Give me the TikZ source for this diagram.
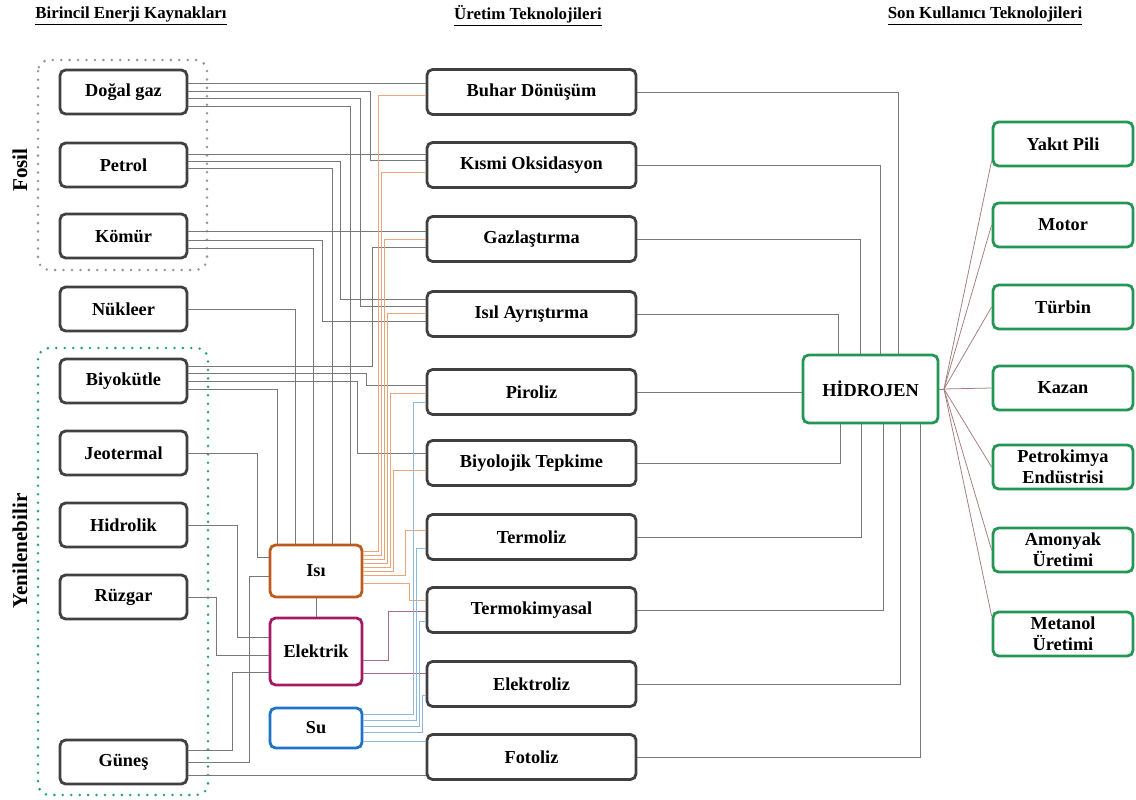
\documentclass[tikz,border=0pt]{standalone}
\usepackage{fontspec}
\setmainfont{Liberation Serif}
\definecolor{boxgray}{RGB}{64,64,64}
\definecolor{usegreen}{RGB}{35,150,85}
\definecolor{fosilgray}{RGB}{150,150,150}
\definecolor{renewgreen}{RGB}{40,165,110}
\definecolor{heatorange}{RGB}{190,90,30}
\definecolor{powermagenta}{RGB}{165,25,100}
\definecolor{waterblue}{RGB}{30,115,195}
\definecolor{wiregray}{RGB}{120,120,120}
\definecolor{heatwire}{RGB}{235,165,120}
\definecolor{waterwire}{RGB}{140,185,225}
\definecolor{powerwire}{RGB}{170,110,140}
\definecolor{fanwire}{RGB}{165,125,125}
\newcommand{\flowfont}{\fontsize{13}{15}\selectfont\bfseries}
\newcommand{\colheadfont}{\fontsize{12}{14}\selectfont\bfseries}
\newcommand{\sidefont}{\fontsize{15}{17}\selectfont\bfseries}
\tikzset{
  flow box/.style={draw=boxgray,line width=2pt,rounded corners=4pt,font=\flowfont,align=center,inner sep=0pt},
  source box/.style={flow box,minimum width=3.175cm,minimum height=1.1cm},
  tech box/.style={flow box,minimum width=5.225cm,minimum height=1.125cm},
  carrier box/.style={flow box,minimum width=2.3cm},
  use box/.style={flow box,draw=usegreen,minimum width=3.5cm,minimum height=1.1cm},
  group frame/.style={line width=2pt,dash pattern=on 0pt off 6pt,line cap=round,rounded corners=8pt},
  wire/.style={draw=wiregray,line width=0.55pt},
  heat wire/.style={draw=heatwire,line width=0.55pt},
  water wire/.style={draw=waterwire,line width=0.55pt},
  power wire/.style={draw=powerwire,line width=0.55pt},
  fan wire/.style={draw=fanwire,line width=0.55pt},
  column head/.style={font=\colheadfont},
  group head/.style={font=\sidefont,rotate=90}
}

\begin{document}
\begin{tikzpicture}[x=0.025cm,y=-0.025cm]
  \useasboundingbox (0,0) rectangle (1136,800);

  % column headings
  \node[column head] (head-sources) at (131,16) {\underline{Birincil Enerji Kaynakları}};
  \node[column head] (head-tech) at (528,16) {\underline{Üretim Teknolojileri}};
  \node[column head] (head-use) at (985,16) {\underline{Son Kullanıcı Teknolojileri}};

  % source groups
  \draw[group frame,draw=fosilgray] (38,60) rectangle (207,270);
  \draw[group frame,draw=renewgreen] (38,348) rectangle (208,795);
  \node[group head] (fosil) at (20,170) {Fosil};
  \node[group head] (yenilenebilir) at (20,551) {Yenilenebilir};

  % primary sources
  \node[source box] (dogalgaz) at (123.5,92) {Doğal gaz};
  \node[source box] (petrol) at (123.5,165) {Petrol};
  \node[source box] (komur) at (123.5,236) {Kömür};
  \node[source box] (nukleer) at (123.5,309) {Nükleer};
  \node[source box] (biyokutle) at (123.5,381) {Biyokütle};
  \node[source box] (jeotermal) at (123.5,453) {Jeotermal};
  \node[source box] (hidrolik) at (123.5,525) {Hidrolik};
  \node[source box] (ruzgar) at (123.5,597) {Rüzgar};
  \node[source box] (gunes) at (123.5,762) {Güneş};

  % carriers
  \node[carrier box,draw=heatorange,minimum height=1.3cm] (isi) at (316,571) {Isı};
  \node[carrier box,draw=powermagenta,minimum height=1.675cm] (elektrik) at (316,651.5) {Elektrik};
  \node[carrier box,draw=waterblue,minimum height=1cm] (su) at (316,728) {Su};

  % production technologies
  \node[tech box] (buhar) at (531.5,92) {Buhar Dönüşüm};
  \node[tech box] (kismi) at (531.5,165) {Kısmi Oksidasyon};
  \node[tech box] (gazlas) at (531.5,239) {Gazlaştırma};
  \node[tech box] (isil) at (531.5,314) {Isıl Ayrıştırma};
  \node[tech box] (piroliz) at (531.5,392) {Piroliz};
  \node[tech box] (biyolojik) at (531.5,463) {Biyolojik Tepkime};
  \node[tech box] (termoliz) at (531.5,537) {Termoliz};
  \node[tech box] (termokim) at (531.5,610) {Termokimyasal};
  \node[tech box] (elektroliz) at (531.5,684) {Elektroliz};
  \node[tech box] (fotoliz) at (531.5,757) {Fotoliz};

  \node[flow box,draw=usegreen,minimum width=3.375cm,minimum height=1.7cm] (hidrojen) at (870.5,389) {HİDROJEN};

  % end uses
  \node[use box] (yakit) at (1063,144) {Yakıt Pili};
  \node[use box] (motor) at (1063,225) {Motor};
  \node[use box] (turbin) at (1063,307) {Türbin};
  \node[use box] (kazan) at (1063,388) {Kazan};
  \node[use box] (petrokim) at (1063,467) {Petrokimya\\Endüstrisi};
  \node[use box] (amonyak) at (1063,550) {Amonyak\\Üretimi};
  \node[use box] (metanol) at (1063,634) {Metanol\\Üretimi};

  % fossil and nuclear wiring
  \draw[wire] (dogalgaz.east |- 0,83) -- (buhar.west |- 0,83);
  \draw[wire] (dogalgaz.east |- 0,91) -| (370,160) -- (kismi.west |- 0,160);
  \draw[wire] (dogalgaz.east |- 0,98) -| (360,306) -- (isil.west |- 0,306);
  \draw[wire] (dogalgaz.east |- 0,106) -| (isi.north -| 350,0);
  \draw[wire] (petrol.east |- 0,154) -- (kismi.west |- 0,154);
  \draw[wire] (petrol.east |- 0,161) -| (340,299) -- (isil.west |- 0,299);
  \draw[wire] (petrol.east |- 0,168) -| (isi.north -| 332,0);
  \draw[wire] (komur.east |- 0,231) -- (gazlas.west |- 0,231);
  \draw[wire] (komur.east |- 0,240) -| (322,321) -- (isil.west |- 0,321);
  \draw[wire] (komur.east |- 0,248) -| (isi.north -| 313,0);
  \draw[wire] (nukleer.east) -| (isi.north -| 295,0);

  % renewable wiring
  \draw[wire] (biyokutle.east |- 0,366) -| (372,247) -- (gazlas.west |- 0,247);
  \draw[wire] (biyokutle.east |- 0,373) -| (366,385) -- (piroliz.west |- 0,385);
  \draw[wire] (biyokutle.east |- 0,381) -| (357,453) -- (biyolojik.west |- 0,453);
  \draw[wire] (biyokutle.east |- 0,389) -| (isi.north -| 277,0);
  \draw[wire] (jeotermal.east) -| (257,557) -- (isi.west |- 0,557);
  \draw[wire] (hidrolik.east) -| (237,637) -- (elektrik.west |- 0,637);
  \draw[wire] (ruzgar.east) -| (216,655) -- (elektrik.west |- 0,655);
  \draw[wire] (gunes.east |- 0,750) -| (232,672) -- (elektrik.west |- 0,672);
  \draw[wire] (gunes.east |- 0,762) -| (249,576) -- (isi.west |- 0,576);
  \draw[wire] (gunes.east |- 0,775) -- (fotoliz.west |- 0,775);
  \draw[wire] (isi.south) -- (elektrik.north);

  % heat
  \draw[heat wire] (isi.east |- 0,551) -| (378,95) -- (buhar.west |- 0,95);
  \draw[heat wire] (isi.east |- 0,555) -| (381,172) -- (kismi.west |- 0,172);
  \draw[heat wire] (isi.east |- 0,559) -| (384,239) -- (gazlas.west |- 0,239);
  \draw[heat wire] (isi.east |- 0,563) -| (387,313) -- (isil.west |- 0,313);
  \draw[heat wire] (isi.east |- 0,567) -| (390,393) -- (piroliz.west |- 0,393);
  \draw[heat wire] (isi.east |- 0,571) -| (393,470) -- (biyolojik.west |- 0,470);
  \draw[heat wire] (isi.east |- 0,575) -| (405,530) -- (termoliz.west |- 0,530);
  \draw[heat wire] (isi.east |- 0,583) -| (409,600) -- (termokim.west |- 0,600);

  % electricity and water
  \draw[power wire] (elektrik.east |- 0,660) -| (388,611) -- (termokim.west |- 0,611);
  \draw[power wire] (elektrik.east |- 0,673) -- (elektroliz.west |- 0,673);
  \draw[water wire] (su.east |- 0,714) -| (413,402) -- (piroliz.west |- 0,402);
  \draw[water wire] (su.east |- 0,720) -| (416,548) -- (termoliz.west |- 0,548);
  \draw[water wire] (su.east |- 0,726) -| (419,621) -- (termokim.west |- 0,621);
  \draw[water wire] (su.east |- 0,732) -| (422,695) -- (elektroliz.west |- 0,695);
  \draw[water wire] (su.east |- 0,741) -- (fotoliz.west |- 0,741);

  % into hydrogen
  \draw[wire] (buhar.east) -| (hidrojen.north -| 898,0);
  \draw[wire] (kismi.east) -| (hidrojen.north -| 880,0);
  \draw[wire] (gazlas.east) -| (hidrojen.north -| 860,0);
  \draw[wire] (isil.east) -| (hidrojen.north -| 838,0);
  \draw[wire] (piroliz.east) -- (hidrojen.west |- piroliz.east);
  \draw[wire] (biyolojik.east) -| (hidrojen.south -| 840,0);
  \draw[wire] (termoliz.east) -| (hidrojen.south -| 861,0);
  \draw[wire] (termokim.east) -| (hidrojen.south -| 883,0);
  \draw[wire] (elektroliz.east) -| (hidrojen.south -| 900,0);
  \draw[wire] (fotoliz.east) -| (hidrojen.south -| 920,0);

  % fan out to end uses
  \coordinate (hub) at (944,389);
  \draw[fan wire] (hidrojen.east) -- (hub);
  \draw[fan wire] (hub) -- (yakit.west |- 0,161);
  \draw[fan wire] (hub) -- (motor.west);
  \draw[fan wire] (hub) -- (turbin.west);
  \draw[fan wire] (hub) -- (kazan.west);
  \draw[fan wire] (hub) -- (petrokim.west);
  \draw[fan wire] (hub) -- (amonyak.west);
  \draw[fan wire] (hub) -- (metanol.west |- 0,616);
\end{tikzpicture}
\end{document}
